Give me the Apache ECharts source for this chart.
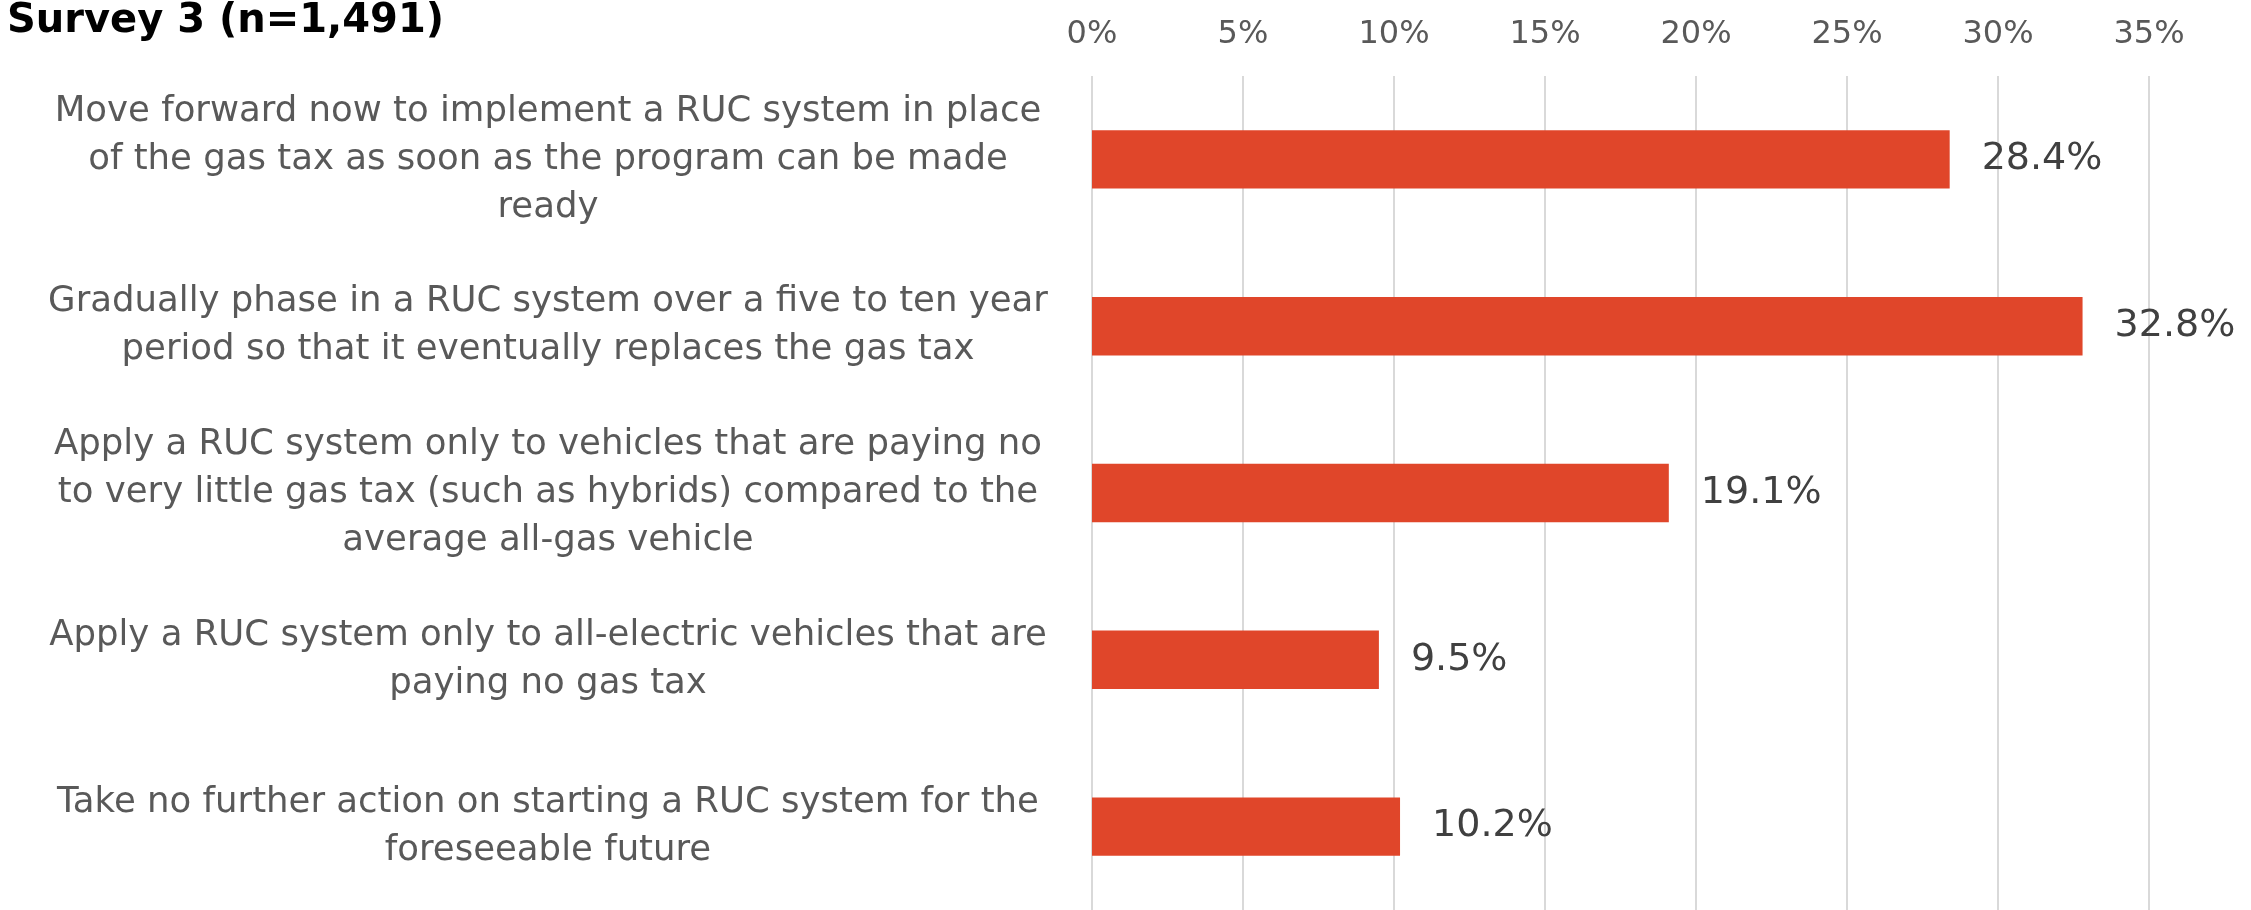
<!DOCTYPE html>
<html>
<head>
<meta charset="utf-8">
<script src="https://cdn.jsdelivr.net/npm/echarts@6/dist/echarts.min.js"></script>
<style>
html,body{margin:0;padding:0;background:#fff;}
#chart{width:2251px;height:910px;}
</style>
</head>
<body>
<div id="chart"></div>
<script>
const titleText = 'Survey 3 (n=1,491)';
const categories = [
  'Move forward now to implement a RUC system in place\nof the gas tax as soon as the program can be made\nready',
  'Gradually phase in a RUC system over a five to ten year\nperiod so that it eventually replaces the gas tax',
  'Apply a RUC system only to vehicles that are paying no\nto very little gas tax (such as hybrids) compared to the\naverage all-gas vehicle',
  'Apply a RUC system only to all-electric vehicles that are\npaying no gas tax',
  'Take no further action on starting a RUC system for the\nforeseeable future'
];
const values = [28.4, 32.8, 19.1, 9.5, 10.2];
const axisMin = 0, axisMax = 35, axisStep = 5;

const chart = echarts.init(document.getElementById('chart'), null, {renderer: 'canvas'});
chart.setOption({
  backgroundColor: '#ffffff',
  animation: false,
  title: {
    text: titleText,
    left: 2,
    top: -3,
    textStyle: {fontFamily: 'DejaVu Sans', fontWeight: 'bold', fontSize: 40, color: '#000000'}
  },
  grid: {left: 1092, right: 102, top: 76, height: 840, containLabel: false},
  xAxis: {
    type: 'value',
    position: 'top',
    min: axisMin, max: axisMax, interval: axisStep,
    axisLine: {show: false},
    axisTick: {show: false},
    axisLabel: {formatter: '{value}%', fontFamily: 'DejaVu Sans', fontSize: 32, color: '#595959', margin: 25},
    splitLine: {show: true, lineStyle: {color: '#d9d9d9', width: 2}}
  },
  yAxis: {
    type: 'category',
    inverse: true,
    data: categories,
    axisLine: {show: false},
    axisTick: {show: false},
    axisLabel: {
      align: 'center', margin: 544,
      fontFamily: 'DejaVu Sans', fontSize: 35.5, lineHeight: 48, color: '#595959'
    }
  },
  series: [{
    type: 'bar',
    data: values,
    barCategoryGap: '65%',
    itemStyle: {color: '#E0462A'},
    label: {
      show: true, position: 'right', distance: 32,
      formatter: p => p.value.toFixed(1) + '%',
      fontFamily: 'DejaVu Sans', fontSize: 38, color: '#404040'
    }
  }]
});
</script>
</body>
</html>
